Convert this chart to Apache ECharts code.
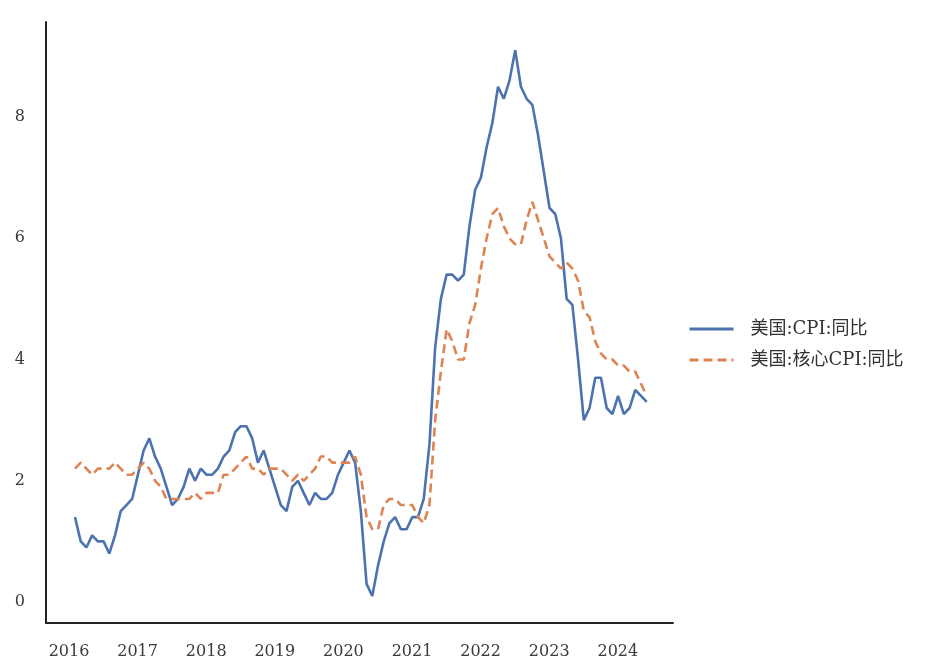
<!DOCTYPE html>
<html>
<head>
<meta charset="utf-8">
<script src="https://cdn.jsdelivr.net/npm/echarts@6/dist/echarts.min.js"></script>
<style>html,body{margin:0;padding:0;background:#fff;}#c{width:948px;height:662px;}</style>
</head>
<body>
<div id="c"></div>
<script>
// Monthly, Jan 2016 .. May 2024
const startYear = 2016;
const yearTicks = [2016, 2017, 2018, 2019, 2020, 2021, 2022, 2023, 2024];
const yTicks = [0, 2, 4, 6, 8];
const seriesNames = ['美国:CPI:同比', '美国:核心CPI:同比'];

const cpi = [
  1.4, 1.0, 0.9, 1.1, 1.0, 1.0, 0.8, 1.1, 1.5, 1.6, 1.7, 2.1,
  2.5, 2.7, 2.4, 2.2, 1.9, 1.6, 1.7, 1.9, 2.2, 2.0, 2.2, 2.1,
  2.1, 2.2, 2.4, 2.5, 2.8, 2.9, 2.9, 2.7, 2.3, 2.5, 2.2, 1.9,
  1.6, 1.5, 1.9, 2.0, 1.8, 1.6, 1.8, 1.7, 1.7, 1.8, 2.1, 2.3,
  2.5, 2.3, 1.5, 0.3, 0.1, 0.6, 1.0, 1.3, 1.4, 1.2, 1.2, 1.4,
  1.4, 1.7, 2.6, 4.2, 5.0, 5.4, 5.4, 5.3, 5.4, 6.2, 6.8, 7.0,
  7.5, 7.9, 8.5, 8.3, 8.6, 9.1, 8.5, 8.3, 8.2, 7.7, 7.1, 6.5,
  6.4, 6.0, 5.0, 4.9, 4.0, 3.0, 3.2, 3.7, 3.7, 3.2, 3.1, 3.4,
  3.1, 3.2, 3.5, 3.4, 3.3
];
const coreCpi = [
  2.2, 2.3, 2.2, 2.1, 2.2, 2.2, 2.2, 2.3, 2.2, 2.1, 2.1, 2.2,
  2.3, 2.2, 2.0, 1.9, 1.7, 1.7, 1.7, 1.7, 1.7, 1.8, 1.7, 1.8,
  1.8, 1.8, 2.1, 2.1, 2.2, 2.3, 2.4, 2.2, 2.2, 2.1, 2.2, 2.2,
  2.2, 2.1, 2.0, 2.1, 2.0, 2.1, 2.2, 2.4, 2.4, 2.3, 2.3, 2.3,
  2.3, 2.4, 2.1, 1.4, 1.2, 1.2, 1.6, 1.7, 1.7, 1.6, 1.6, 1.6,
  1.4, 1.3, 1.6, 3.0, 3.8, 4.5, 4.3, 4.0, 4.0, 4.6, 4.9, 5.5,
  6.0, 6.4, 6.5, 6.2, 6.0, 5.9, 5.9, 6.3, 6.6, 6.3, 6.0, 5.7,
  5.6, 5.5, 5.6, 5.5, 5.3, 4.8, 4.7, 4.3, 4.1, 4.0, 4.0, 3.9,
  3.9, 3.8, 3.8, 3.6, 3.4
];

const toPairs = arr => arr.map((v, i) => [i, v]);
const xTickValues = yearTicks.map(y => (y - startYear) * 12);

const chart = echarts.init(document.getElementById('c'), null, {renderer: 'canvas'});
const labelFont = {fontFamily: '"DejaVu Serif", "Liberation Serif", serif', fontSize: 16, color: '#3a3a3a'};
chart.setOption({
  animation: false,
  backgroundColor: '#ffffff',
  grid: {left: 46, right: 275, top: 22, bottom: 39},
  legend: {
    orient: 'vertical',
    left: 683,
    top: 315,
    itemWidth: 44,
    itemHeight: 18,
    itemGap: 13,
    itemStyle: {opacity: 0},
    lineStyle: {width: 3},
    textStyle: {fontFamily: '"DejaVu Serif", "Noto Sans CJK SC", serif', fontSize: 18, color: '#333', padding: [0, 0, 0, 12]},
    data: seriesNames
  },
  xAxis: {
    type: 'value',
    min: -5.07,
    max: 104.6,
    axisLine: {show: true, onZero: false, lineStyle: {color: '#222', width: 2}},
    axisTick: {show: false},
    splitLine: {show: false},
    axisLabel: Object.assign({
      customValues: xTickValues,
      margin: 21,
      padding: [0, 12, 0, 0],
      formatter: v => String(startYear + Math.round(v / 12))
    }, labelFont)
  },
  yAxis: {
    type: 'value',
    min: -0.346,
    max: 9.567,
    axisLine: {show: true, onZero: false, lineStyle: {color: '#222', width: 2}},
    axisTick: {show: false},
    splitLine: {show: false},
    axisLabel: Object.assign({
      customValues: yTicks,
      margin: 21,
      formatter: v => String(Math.round(v))
    }, labelFont)
  },
  series: [
    {
      name: seriesNames[0],
      type: 'line',
      data: toPairs(cpi),
      symbol: 'none',
      lineStyle: {color: '#4C72B0', width: 2.6},
      itemStyle: {color: '#4C72B0'}
    },
    {
      name: seriesNames[1],
      type: 'line',
      data: toPairs(coreCpi),
      symbol: 'none',
      lineStyle: {color: '#DD8452', width: 2.6, type: [9, 5]},
      itemStyle: {color: '#DD8452'}
    }
  ]
});
</script>
</body>
</html>
